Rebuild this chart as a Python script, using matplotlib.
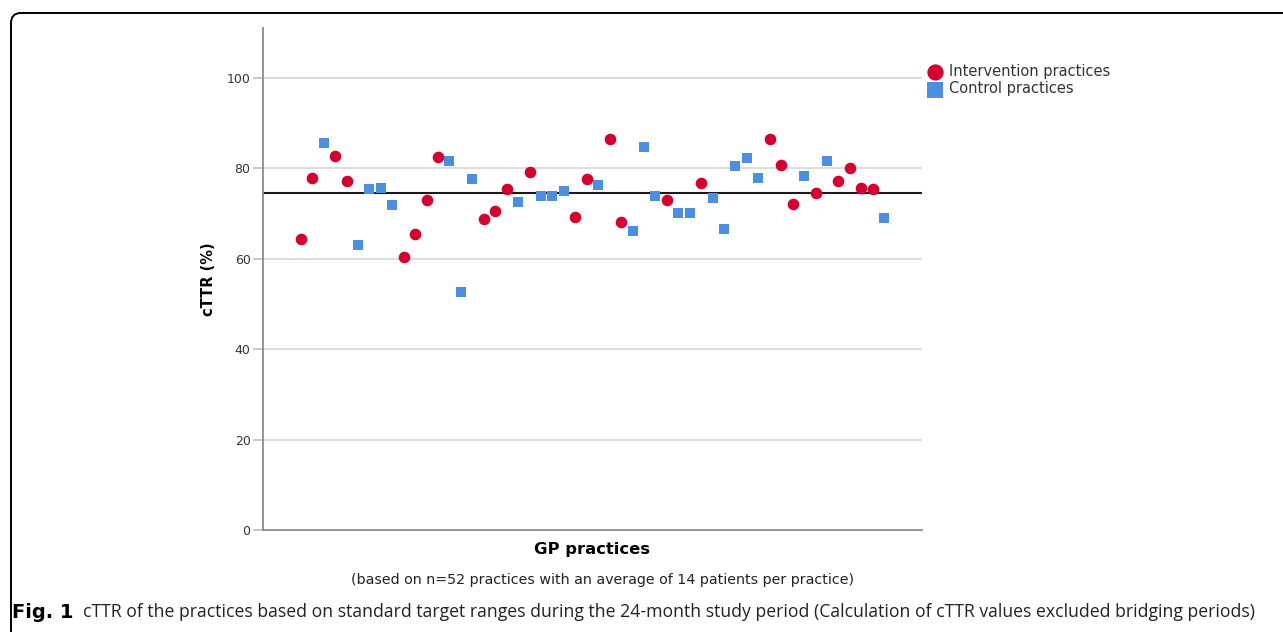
import numpy as np
import matplotlib
matplotlib.use("Agg")
import matplotlib.pyplot as plt
from matplotlib.patches import FancyBboxPatch

# practice order 1..52, group and cTTR value
group = ["I", "I", "C", "I", "I", "C", "C", "C", "C", "I",
         "I", "I", "I", "C", "C", "C", "I", "I", "I", "C",
         "I", "C", "C", "C", "I", "I", "C", "I", "I", "C",
         "C", "C", "I", "C", "C", "I", "C", "C", "C", "C",
         "C", "I", "I", "I", "C", "I", "C", "I", "I", "I",
         "I", "C"]
cttr = [64.4, 77.8, 85.6, 82.8, 77.2, 63.0, 75.4, 75.7, 72.0, 60.4,
        65.5, 73.0, 82.6, 81.6, 52.7, 77.6, 68.9, 70.5, 75.5, 72.5,
        79.3, 73.8, 73.9, 75.0, 69.3, 77.6, 76.4, 86.6, 68.1, 66.2,
        84.7, 73.8, 73.0, 70.2, 70.2, 76.7, 73.5, 66.6, 80.5, 82.4,
        77.9, 86.4, 80.7, 72.2, 78.4, 74.5, 81.7, 77.3, 80.2, 75.7,
        75.5, 69.1]
mean_cttr = 74.6

red = "#D5002E"
blue = "#4A8FE3"

pos = np.arange(1, len(cttr) + 1)
group = np.array(group)
cttr = np.array(cttr)

fig = plt.figure(figsize=(12.83, 6.32), dpi=100)
ax = fig.add_axes([0.205, 0.1614, 0.5136, 0.7938])

for y in [20, 40, 60, 80, 100]:
    ax.axhline(y, color="#d9d9d9", lw=1.3, zorder=0)
ax.axhline(mean_cttr, color="#1a1a1a", lw=1.5, zorder=1)

ax.scatter(pos[group == "I"], cttr[group == "I"], s=70, marker="o",
           color=red, linewidths=0, label="Intervention practices", zorder=3)
ax.scatter(pos[group == "C"], cttr[group == "C"], s=62, marker="s",
           color=blue, linewidths=0, label="Control practices", zorder=3)

ax.set_xlim(-2.3, 55.3)
ax.set_ylim(0, 111)
ax.set_yticks([0, 20, 40, 60, 80, 100])
ax.set_xticks([])
for s in ["top", "right"]:
    ax.spines[s].set_visible(False)
for s in ["left", "bottom"]:
    ax.spines[s].set_color("#8c8c8c")
    ax.spines[s].set_linewidth(1.3)
ax.tick_params(axis="y", length=7, width=1.2, color="#bdbdbd",
               labelsize=9, labelcolor="#333333", pad=2)

ax.set_ylabel("cTTR (%)", fontsize=10.5, fontweight="bold", labelpad=8)
ax.set_xlabel("GP practices", fontsize=11.8, fontweight="bold", labelpad=9)

leg = fig.legend(loc="upper left", bbox_to_anchor=(0.716, 0.91),
                 frameon=False, fontsize=10.5, markerscale=1.4,
                 handletextpad=0.4, labelspacing=0.15, borderpad=0,
                 handlelength=1.2)
for t in leg.get_texts():
    t.set_color("#333333")

fig.text(0.47, 0.082, "(based on n=52 practices with an average of 14 patients per practice)",
         ha="center", va="center", fontsize=10.3, color="#222222")

fig.text(0.0095, 0.031, "Fig. 1", ha="left", va="center", fontsize=14,
         fontweight="bold")
fig.text(0.0645, 0.031,
         "cTTR of the practices based on standard target ranges during the 24-month study period "
         "(Calculation of cTTR values excluded bridging periods)",
         ha="left", va="center", fontsize=12.7, family="Open Sans", color="#222222")

frame = FancyBboxPatch((11, -30), 1320, 632 - 13 + 30, transform=None,
                       boxstyle="round,pad=0,rounding_size=10",
                       fill=False, edgecolor="black", lw=1.4)
fig.patches.append(frame)

fig.savefig("out.png", dpi=100)
